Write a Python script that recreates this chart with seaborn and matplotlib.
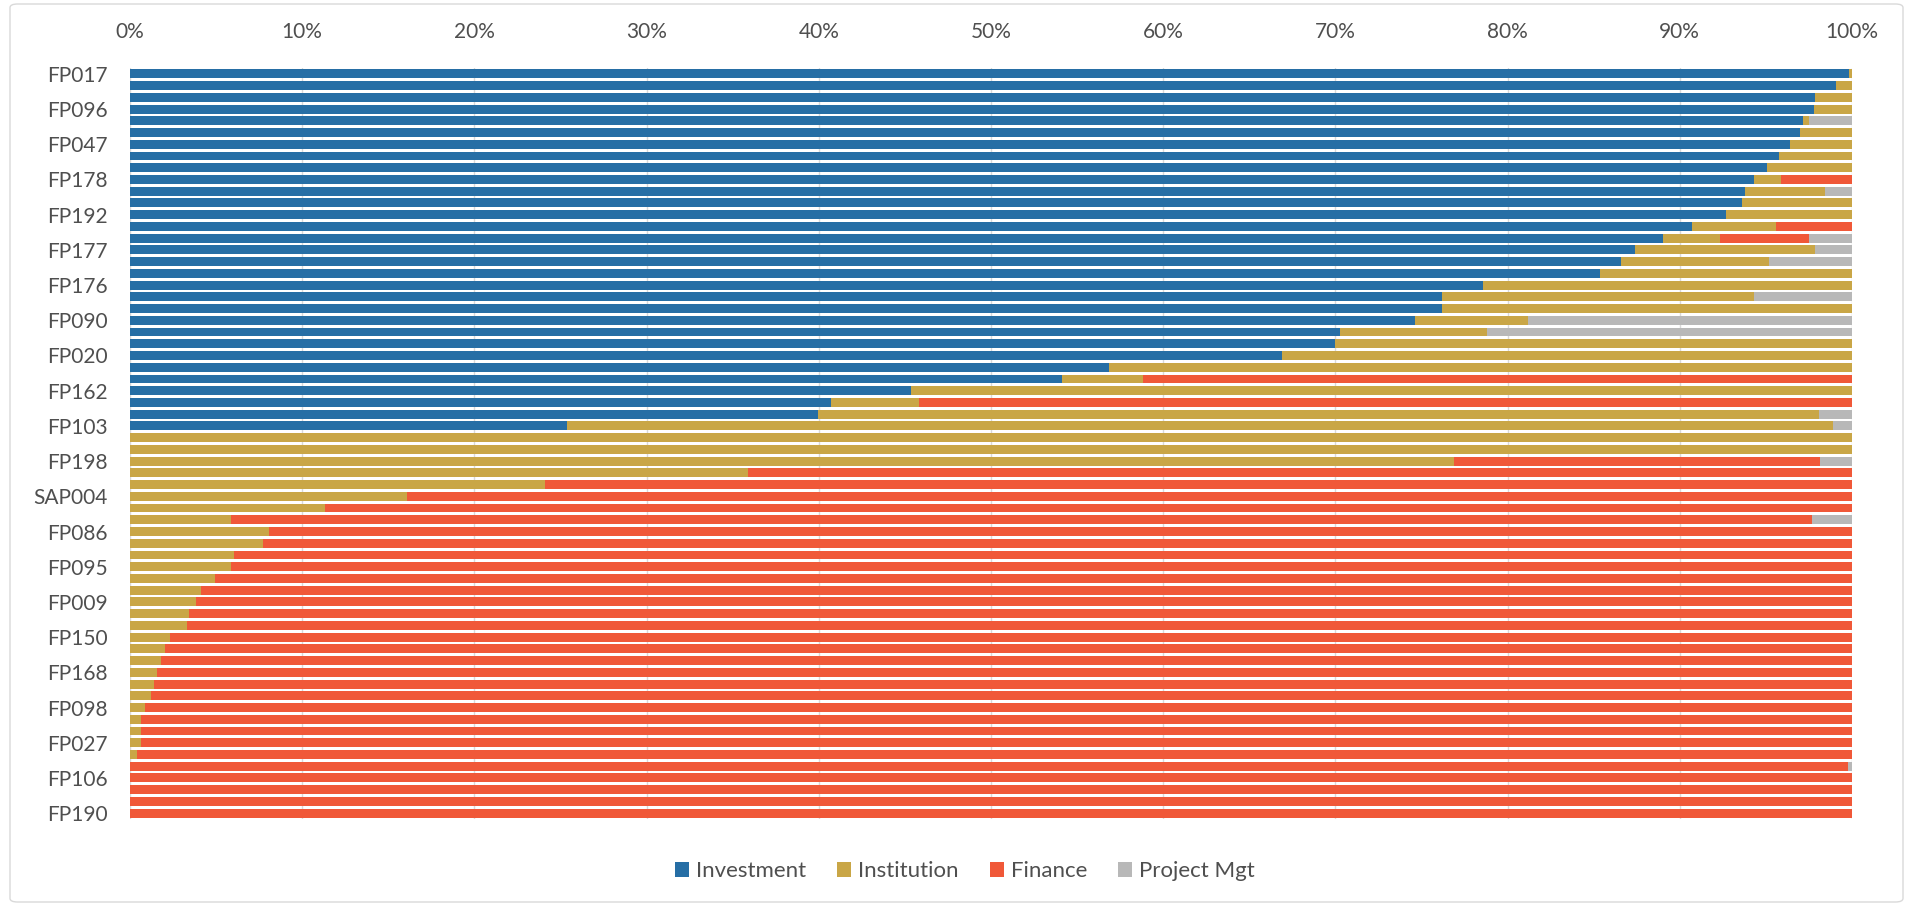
import numpy as np
import pandas as pd
import matplotlib
matplotlib.use("Agg")
import matplotlib.pyplot as plt
from matplotlib.patches import Patch, FancyBboxPatch
import seaborn as sns

# Share of each project's budget by component (percent), one entry per project row
investment = [
    99.84, 99.07, 97.86, 97.78, 97.14, 96.96, 96.38, 95.74, 95.04, 94.30,
    93.81, 93.60, 92.70, 90.72, 89.01, 87.37, 86.56, 85.38, 78.60, 76.20,
    76.20, 74.65, 70.27, 69.99, 66.88, 56.85, 54.10, 45.34, 40.68, 39.97,
    25.35, 0, 0, 0, 0, 0, 0, 0, 0, 0,
    0, 0, 0, 0, 0, 0, 0, 0, 0, 0,
    0, 0, 0, 0, 0, 0, 0, 0, 0, 0,
    0, 0, 0, 0,
]
institution = [
    0.16, 0.93, 2.14, 2.22, 0.39, 3.04, 3.62, 4.26, 4.96, 1.59,
    4.63, 6.40, 7.30, 4.88, 3.32, 10.49, 8.62, 14.62, 21.40, 18.10,
    23.80, 6.56, 8.54, 30.01, 33.12, 43.15, 4.73, 54.66, 5.15, 58.10,
    73.56, 100.0, 100.0, 76.91, 35.88, 24.08, 16.10, 11.35, 5.85, 8.06,
    7.73, 6.03, 5.87, 4.92, 4.13, 3.84, 3.41, 3.29, 2.31, 2.02,
    1.80, 1.55, 1.38, 1.20, 0.87, 0.62, 0.62, 0.62, 0.41, 0,
    0, 0, 0, 0,
]
finance = [
    0, 0, 0, 0, 0, 0, 0, 0, 0, 4.11,
    0, 0, 0, 4.40, 5.20, 0, 0, 0, 0, 0,
    0, 0, 0, 0, 0, 0, 41.17, 0, 54.17, 0,
    0, 0, 0, 21.22, 64.12, 75.92, 83.90, 88.65, 91.82, 91.94,
    92.27, 93.97, 94.13, 95.08, 95.87, 96.16, 96.59, 96.71, 97.69, 97.98,
    98.20, 98.45, 98.62, 98.80, 99.13, 99.38, 99.38, 99.38, 99.59, 99.75,
    100.0, 100.0, 100.0, 100.0,
]
project_mgt = [
    0, 0, 0, 0, 2.47, 0, 0, 0, 0, 0,
    1.56, 0, 0, 0, 2.47, 2.14, 4.82, 0, 0, 5.70,
    0, 18.79, 21.19, 0, 0, 0, 0, 0, 0, 1.93,
    1.09, 0, 0, 1.87, 0, 0, 0, 0, 2.33, 0,
    0, 0, 0, 0, 0, 0, 0, 0, 0, 0,
    0, 0, 0, 0, 0, 0, 0, 0, 0, 0.25,
    0, 0, 0, 0,
]

# Project codes shown on the axis (every third row is labelled)
tick_labels = [
    "FP017", "FP096", "FP047", "FP178", "FP192", "FP177", "FP176", "FP090",
    "FP020", "FP162", "FP103", "FP198", "SAP004", "FP086", "FP095", "FP009",
    "FP150", "FP168", "FP098", "FP027", "FP106", "FP190",
]

series_names = ["Investment", "Institution", "Finance", "Project Mgt"]
series_colors = ["#266EA5", "#C9A646", "#F05838", "#B8B8B8"]
text_color = "#4F4F4F"
grid_color = "#D9D9D9"

sns.set_theme(style="white")
plt.rcParams["font.family"] = ["Lato", "DejaVu Sans"]

shares = pd.DataFrame(dict(zip(series_names, [investment, institution, finance, project_mgt])))
shares = shares.div(shares.sum(axis=1), axis=0) * 100
shares["row"] = np.arange(len(shares))
cumulative = shares[series_names].cumsum(axis=1)

fig = plt.figure(figsize=(19.07, 9.06), dpi=100)
ax = fig.add_axes([130 / 1907, 1 - 819 / 906, 1722 / 1907, 751 / 906])

# 100% stacked bars: draw cumulative totals from the outermost segment inward
for name, color in reversed(list(zip(series_names, series_colors))):
    sns.barplot(
        x=cumulative[name].values, y=shares["row"].values, orient="h",
        color=color, saturation=1, width=0.76, linewidth=0,
        errorbar=None, ax=ax,
    )

n_rows = len(shares)
ax.set_xlim(0, 100)
ax.set_ylim(n_rows - 0.5, -0.5)
ax.set_yticks(np.arange(0, n_rows, 3))
ax.set_yticklabels(tick_labels)

ax.xaxis.tick_top()
xt = np.arange(0, 101, 10)
ax.set_xticks(xt)
ax.set_xticklabels([f"{v}%" for v in xt])
ax.set_xlabel("")
ax.set_ylabel("")

ax.tick_params(axis="both", length=0, labelsize=15, colors=text_color)
ax.tick_params(axis="x", pad=19)
ax.tick_params(axis="y", pad=16)

ax.grid(axis="x", color=grid_color, linewidth=1.0)
ax.grid(axis="y", visible=False)
ax.set_axisbelow(True)
for spine in ax.spines.values():
    spine.set_visible(False)

handles = [Patch(facecolor=c, edgecolor="none") for c in series_colors]
fig.legend(
    handles, series_names, loc="center", bbox_to_anchor=(0.506, 1 - 871 / 906),
    ncol=4, frameon=False, fontsize=16, handlelength=0.64, handleheight=0.64,
    handletextpad=0.3, columnspacing=1.4, labelcolor=text_color,
)

# Light outer frame around the chart area
frame = FancyBboxPatch(
    (10 / 1907, 4 / 906), 1893 / 1907, 898 / 906,
    boxstyle="round,pad=0,rounding_size=0.004", transform=fig.transFigure,
    fill=False, edgecolor=grid_color, linewidth=1.0,
)
fig.patches.append(frame)

fig.savefig("out.png", dpi=100)
